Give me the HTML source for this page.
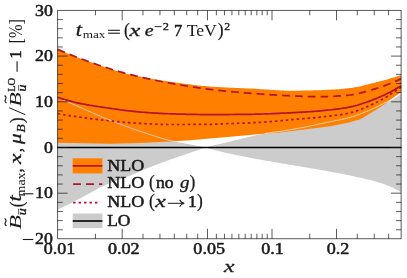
<!DOCTYPE html>
<html><head><meta charset="utf-8"><title>plot</title>
<style>html,body{margin:0;padding:0;background:#fff;}svg{display:block;will-change:transform;}</style></head>
<body>
<svg width="407" height="278" viewBox="0 0 407 278">
<rect width="407" height="278" fill="#fff"/>
<path d="M57.70 97.40 L60.20 98.53 L62.71 99.65 L65.21 100.77 L67.71 101.89 L70.22 103.00 L72.72 104.11 L75.22 105.22 L77.73 106.32 L80.23 107.42 L82.73 108.52 L85.24 109.63 L87.74 110.73 L90.24 111.84 L92.75 112.94 L95.25 114.04 L97.75 115.12 L100.26 116.19 L102.76 117.25 L105.26 118.29 L107.77 119.31 L110.27 120.30 L112.77 121.29 L115.28 122.26 L117.78 123.22 L120.28 124.17 L122.79 125.11 L125.29 126.04 L127.79 126.95 L130.30 127.85 L132.80 128.74 L135.31 129.61 L137.81 130.47 L140.31 131.31 L142.82 132.17 L145.32 133.02 L147.82 133.87 L150.33 134.70 L152.83 135.53 L155.33 136.34 L157.84 137.12 L160.34 137.89 L162.84 138.62 L165.35 139.31 L167.85 139.97 L170.35 140.58 L172.86 141.15 L175.36 141.68 L177.86 142.17 L180.37 142.65 L182.87 143.12 L185.37 143.59 L187.88 144.08 L190.38 144.57 L192.88 145.06 L195.39 145.55 L197.89 146.04 L200.39 146.53 L202.90 147.02 L205.40 147.50 L205.40 147.50 L207.88 146.90 L210.35 146.30 L212.83 145.70 L215.30 145.10 L217.78 144.51 L220.26 143.91 L222.73 143.32 L225.21 142.73 L227.68 142.15 L230.16 141.56 L232.64 140.97 L235.11 140.37 L237.59 139.76 L240.06 139.15 L242.54 138.53 L245.02 137.92 L247.49 137.32 L249.97 136.73 L252.44 136.15 L254.92 135.59 L257.39 135.05 L259.87 134.54 L262.35 134.05 L264.82 133.60 L267.30 133.18 L269.77 132.79 L272.25 132.42 L274.73 132.06 L277.20 131.72 L279.68 131.37 L282.15 131.02 L284.63 130.66 L287.11 130.28 L289.58 129.87 L292.06 129.44 L294.53 129.00 L297.01 128.54 L299.49 128.08 L301.96 127.60 L304.44 127.11 L306.91 126.62 L309.39 126.11 L311.87 125.61 L314.34 125.09 L316.82 124.57 L319.29 124.05 L321.77 123.53 L324.25 123.01 L326.72 122.49 L329.20 121.97 L331.67 121.45 L334.15 120.96 L336.63 120.46 L339.10 119.96 L341.58 119.45 L344.05 118.90 L346.53 118.31 L349.01 117.67 L351.48 116.97 L353.96 116.19 L356.43 115.36 L358.91 114.47 L361.38 113.54 L363.86 112.58 L366.34 111.59 L368.81 110.58 L371.29 109.50 L373.76 108.35 L376.24 107.15 L378.72 105.93 L381.19 104.71 L383.67 103.49 L386.14 102.32 L388.62 101.18 L391.10 99.99 L393.57 98.64 L396.05 97.13 L398.52 95.48 L401.00 93.70 L401.00 192.30 L398.52 190.81 L396.05 189.40 L393.57 188.10 L391.10 186.96 L388.62 185.92 L386.14 184.96 L383.67 184.07 L381.19 183.24 L378.72 182.46 L376.24 181.73 L373.76 181.03 L371.29 180.37 L368.81 179.74 L366.34 179.13 L363.86 178.54 L361.38 177.97 L358.91 177.42 L356.43 176.88 L353.96 176.35 L351.48 175.83 L349.01 175.32 L346.53 174.80 L344.05 174.30 L341.58 173.80 L339.10 173.32 L336.63 172.85 L334.15 172.39 L331.67 171.93 L329.20 171.48 L326.72 171.03 L324.25 170.59 L321.77 170.15 L319.29 169.71 L316.82 169.27 L314.34 168.83 L311.87 168.40 L309.39 167.97 L306.91 167.55 L304.44 167.13 L301.96 166.71 L299.49 166.30 L297.01 165.89 L294.53 165.47 L292.06 165.06 L289.58 164.64 L287.11 164.22 L284.63 163.80 L282.15 163.38 L279.68 162.97 L277.20 162.56 L274.73 162.15 L272.25 161.74 L269.77 161.32 L267.30 160.90 L264.82 160.48 L262.35 160.05 L259.87 159.61 L257.39 159.16 L254.92 158.71 L252.44 158.25 L249.97 157.79 L247.49 157.32 L245.02 156.85 L242.54 156.36 L240.06 155.87 L237.59 155.37 L235.11 154.86 L232.64 154.34 L230.16 153.81 L227.68 153.25 L225.21 152.69 L222.73 152.10 L220.26 151.49 L217.78 150.86 L215.30 150.22 L212.83 149.56 L210.35 148.89 L207.88 148.20 L205.40 147.50 L205.40 147.50 L202.90 148.36 L200.39 149.23 L197.89 150.09 L195.39 150.95 L192.88 151.82 L190.38 152.68 L187.88 153.54 L185.37 154.40 L182.87 155.25 L180.37 156.10 L177.86 156.96 L175.36 157.82 L172.86 158.69 L170.35 159.57 L167.85 160.47 L165.35 161.38 L162.84 162.30 L160.34 163.23 L157.84 164.17 L155.33 165.12 L152.83 166.09 L150.33 167.07 L147.82 168.08 L145.32 169.12 L142.82 170.19 L140.31 171.27 L137.81 172.34 L135.31 173.40 L132.80 174.44 L130.30 175.43 L127.79 176.40 L125.29 177.33 L122.79 178.25 L120.28 179.16 L117.78 180.08 L115.28 181.00 L112.77 181.96 L110.27 182.94 L107.77 183.97 L105.26 185.06 L102.76 186.21 L100.26 187.47 L97.75 188.79 L95.25 190.16 L92.75 191.54 L90.24 192.91 L87.74 194.25 L85.24 195.57 L82.73 196.90 L80.23 198.22 L77.73 199.54 L75.22 200.84 L72.72 202.13 L70.22 203.41 L67.71 204.67 L65.21 205.92 L62.71 207.16 L60.20 208.38 L57.70 209.60 Z" fill="#cccccc"/>
<path d="M57.70 49.40 L60.00 50.38 L62.31 51.35 L64.61 52.31 L66.92 53.25 L69.22 54.19 L71.52 55.11 L73.83 56.02 L76.13 56.92 L78.44 57.81 L80.74 58.68 L83.04 59.54 L85.35 60.39 L87.65 61.23 L89.96 62.05 L92.26 62.86 L94.56 63.65 L96.87 64.44 L99.17 65.22 L101.48 66.01 L103.78 66.79 L106.08 67.56 L108.39 68.33 L110.69 69.08 L113.00 69.81 L115.30 70.53 L117.60 71.22 L119.91 71.90 L122.21 72.54 L124.52 73.16 L126.82 73.75 L129.12 74.30 L131.43 74.82 L133.73 75.32 L136.04 75.81 L138.34 76.29 L140.64 76.75 L142.95 77.20 L145.25 77.63 L147.56 78.06 L149.86 78.47 L152.17 78.88 L154.47 79.27 L156.77 79.65 L159.08 80.03 L161.38 80.39 L163.69 80.75 L165.99 81.10 L168.29 81.44 L170.60 81.78 L172.90 82.11 L175.21 82.43 L177.51 82.75 L179.81 83.07 L182.12 83.39 L184.42 83.70 L186.73 84.01 L189.03 84.31 L191.33 84.60 L193.64 84.88 L195.94 85.15 L198.25 85.41 L200.55 85.66 L202.85 85.89 L205.16 86.11 L207.46 86.30 L209.77 86.48 L212.07 86.65 L214.37 86.80 L216.68 86.94 L218.98 87.08 L221.29 87.21 L223.59 87.33 L225.89 87.45 L228.20 87.56 L230.50 87.67 L232.81 87.77 L235.11 87.88 L237.41 87.98 L239.72 88.08 L242.02 88.18 L244.33 88.29 L246.63 88.39 L248.93 88.50 L251.24 88.61 L253.54 88.72 L255.85 88.85 L258.15 88.98 L260.45 89.13 L262.76 89.29 L265.06 89.45 L267.37 89.62 L269.67 89.78 L271.97 89.94 L274.28 90.10 L276.58 90.24 L278.89 90.37 L281.19 90.49 L283.49 90.58 L285.80 90.65 L288.10 90.69 L290.41 90.70 L292.71 90.69 L295.01 90.68 L297.32 90.66 L299.62 90.63 L301.93 90.59 L304.23 90.55 L306.53 90.50 L308.84 90.45 L311.14 90.40 L313.45 90.34 L315.75 90.28 L318.06 90.22 L320.36 90.15 L322.66 90.07 L324.97 89.98 L327.27 89.87 L329.58 89.76 L331.88 89.62 L334.18 89.48 L336.49 89.32 L338.79 89.15 L341.10 88.97 L343.40 88.78 L345.70 88.57 L348.01 88.35 L350.31 88.08 L352.62 87.74 L354.92 87.34 L357.22 86.90 L359.53 86.41 L361.83 85.89 L364.14 85.34 L366.44 84.77 L368.74 84.18 L371.05 83.60 L373.35 83.01 L375.66 82.43 L377.96 81.86 L380.26 81.27 L382.57 80.66 L384.87 80.04 L387.18 79.39 L389.48 78.73 L391.78 78.05 L394.09 77.36 L396.39 76.65 L398.70 75.93 L401.00 75.20 L401.00 92.20 L392.40 98.30 L384.90 104.00 L377.30 109.10 L367.80 114.80 L360.30 119.20 L348.90 122.40 L330.00 126.20 L300.00 130.10 L280.00 132.60 L263.70 133.80 L230.00 136.70 L210.00 138.50 L190.50 140.20 L170.00 141.60 L140.00 142.90 L110.00 143.70 L85.00 143.30 L57.70 142.70 Z" fill="#ff7f00"/>
<path d="M57.70 97.40 L60.20 98.53 L62.71 99.65 L65.21 100.77 L67.71 101.89 L70.22 103.00 L72.72 104.11 L75.22 105.22 L77.73 106.32 L80.23 107.42 L82.73 108.52 L85.24 109.63 L87.74 110.73 L90.24 111.84 L92.75 112.94 L95.25 114.04 L97.75 115.12 L100.26 116.19 L102.76 117.25 L105.26 118.29 L107.77 119.31 L110.27 120.30 L112.77 121.29 L115.28 122.26 L117.78 123.22 L120.28 124.17 L122.79 125.11 L125.29 126.04 L127.79 126.95 L130.30 127.85 L132.80 128.74 L135.31 129.61 L137.81 130.47 L140.31 131.31 L142.82 132.17 L145.32 133.02 L147.82 133.87 L150.33 134.70 L152.83 135.53 L155.33 136.34 L157.84 137.12 L160.34 137.89 L162.84 138.62 L165.35 139.31 L167.85 139.97 L170.35 140.58 L172.86 141.15 L175.36 141.68" fill="none" stroke="#d4d4d4" stroke-width="0.9"/>
<path d="M264.82 133.60 L267.30 133.18 L269.77 132.79 L272.25 132.42 L274.73 132.06 L277.20 131.72 L279.68 131.37 L282.15 131.02 L284.63 130.66 L287.11 130.28 L289.58 129.87 L292.06 129.44 L294.53 129.00 L297.01 128.54 L299.49 128.08 L301.96 127.60 L304.44 127.11 L306.91 126.62 L309.39 126.11 L311.87 125.61 L314.34 125.09 L316.82 124.57 L319.29 124.05 L321.77 123.53 L324.25 123.01 L326.72 122.49 L329.20 121.97 L331.67 121.45 L334.15 120.96 L336.63 120.46 L339.10 119.96 L341.58 119.45 L344.05 118.90 L346.53 118.31 L349.01 117.67 L351.48 116.97 L353.96 116.19 L356.43 115.36 L358.91 114.47 L361.38 113.54 L363.86 112.58 L366.34 111.59 L368.81 110.58 L371.29 109.50 L373.76 108.35 L376.24 107.15 L378.72 105.93 L381.19 104.71 L383.67 103.49 L386.14 102.32 L388.62 101.18 L391.10 99.99 L393.57 98.64 L396.05 97.13 L398.52 95.48 L401.00 93.70" fill="none" stroke="#f4f4f4" stroke-width="0.7"/>
<path d="M57.70 97.40 L60.00 98.12 L62.31 98.82 L64.61 99.51 L66.92 100.17 L69.22 100.81 L71.52 101.42 L73.83 102.01 L76.13 102.56 L78.44 103.07 L80.74 103.56 L83.04 104.01 L85.35 104.45 L87.65 104.87 L89.96 105.28 L92.26 105.67 L94.56 106.04 L96.87 106.41 L99.17 106.76 L101.48 107.11 L103.78 107.45 L106.08 107.78 L108.39 108.11 L110.69 108.44 L113.00 108.77 L115.30 109.10 L117.60 109.43 L119.91 109.76 L122.21 110.07 L124.52 110.38 L126.82 110.67 L129.12 110.95 L131.43 111.21 L133.73 111.46 L136.04 111.68 L138.34 111.89 L140.64 112.07 L142.95 112.25 L145.25 112.43 L147.56 112.60 L149.86 112.76 L152.17 112.92 L154.47 113.06 L156.77 113.20 L159.08 113.33 L161.38 113.45 L163.69 113.56 L165.99 113.66 L168.29 113.74 L170.60 113.82 L172.90 113.89 L175.21 113.96 L177.51 114.03 L179.81 114.09 L182.12 114.16 L184.42 114.22 L186.73 114.28 L189.03 114.33 L191.33 114.38 L193.64 114.43 L195.94 114.47 L198.25 114.51 L200.55 114.54 L202.85 114.56 L205.16 114.58 L207.46 114.60 L209.77 114.60 L212.07 114.60 L214.37 114.60 L216.68 114.59 L218.98 114.58 L221.29 114.57 L223.59 114.56 L225.89 114.54 L228.20 114.53 L230.50 114.51 L232.81 114.49 L235.11 114.47 L237.41 114.44 L239.72 114.42 L242.02 114.39 L244.33 114.37 L246.63 114.34 L248.93 114.31 L251.24 114.28 L253.54 114.24 L255.85 114.19 L258.15 114.14 L260.45 114.07 L262.76 114.00 L265.06 113.92 L267.37 113.83 L269.67 113.74 L271.97 113.64 L274.28 113.54 L276.58 113.44 L278.89 113.33 L281.19 113.22 L283.49 113.11 L285.80 113.00 L288.10 112.89 L290.41 112.78 L292.71 112.67 L295.01 112.55 L297.32 112.43 L299.62 112.30 L301.93 112.17 L304.23 112.03 L306.53 111.89 L308.84 111.74 L311.14 111.58 L313.45 111.41 L315.75 111.24 L318.06 111.05 L320.36 110.86 L322.66 110.66 L324.97 110.44 L327.27 110.22 L329.58 109.98 L331.88 109.72 L334.18 109.45 L336.49 109.16 L338.79 108.86 L341.10 108.53 L343.40 108.18 L345.70 107.81 L348.01 107.41 L350.31 106.95 L352.62 106.43 L354.92 105.85 L357.22 105.21 L359.53 104.51 L361.83 103.78 L364.14 103.00 L366.44 102.19 L368.74 101.35 L371.05 100.49 L373.35 99.61 L375.66 98.71 L377.96 97.80 L380.26 96.82 L382.57 95.79 L384.87 94.70 L387.18 93.57 L389.48 92.39 L391.78 91.16 L394.09 89.90 L396.39 88.60 L398.70 87.26 L401.00 85.90" fill="none" stroke="#b5122c" stroke-width="1.7"/>
<path d="M57.70 49.40 L60.00 50.38 L62.31 51.35 L64.61 52.31 L66.92 53.25 L69.22 54.19 L71.52 55.11 L73.83 56.02 L76.13 56.92 L78.44 57.81 L80.74 58.68 L83.04 59.54 L85.35 60.39 L87.65 61.23 L89.96 62.05 L92.26 62.86 L94.56 63.65 L96.87 64.44 L99.17 65.21 L101.48 65.98 L103.78 66.75 L106.08 67.50 L108.39 68.24 L110.69 68.97 L113.00 69.69 L115.30 70.40 L117.60 71.09 L119.91 71.76 L122.21 72.42 L124.52 73.06 L126.82 73.68 L129.12 74.28 L131.43 74.86 L133.73 75.43 L136.04 75.98 L138.34 76.53 L140.64 77.07 L142.95 77.60 L145.25 78.11 L147.56 78.62 L149.86 79.12 L152.17 79.61 L154.47 80.09 L156.77 80.56 L159.08 81.03 L161.38 81.48 L163.69 81.93 L165.99 82.37 L168.29 82.79 L170.60 83.22 L172.90 83.63 L175.21 84.04 L177.51 84.44 L179.81 84.83 L182.12 85.23 L184.42 85.61 L186.73 86.00 L189.03 86.37 L191.33 86.74 L193.64 87.10 L195.94 87.46 L198.25 87.80 L200.55 88.14 L202.85 88.46 L205.16 88.78 L207.46 89.08 L209.77 89.38 L212.07 89.66 L214.37 89.93 L216.68 90.19 L218.98 90.44 L221.29 90.68 L223.59 90.92 L225.89 91.15 L228.20 91.37 L230.50 91.59 L232.81 91.80 L235.11 92.00 L237.41 92.20 L239.72 92.40 L242.02 92.59 L244.33 92.78 L246.63 92.96 L248.93 93.14 L251.24 93.32 L253.54 93.49 L255.85 93.66 L258.15 93.83 L260.45 94.00 L262.76 94.17 L265.06 94.33 L267.37 94.49 L269.67 94.65 L271.97 94.81 L274.28 94.96 L276.58 95.10 L278.89 95.24 L281.19 95.37 L283.49 95.49 L285.80 95.61 L288.10 95.72 L290.41 95.82 L292.71 95.91 L295.01 96.01 L297.32 96.11 L299.62 96.21 L301.93 96.31 L304.23 96.39 L306.53 96.47 L308.84 96.55 L311.14 96.61 L313.45 96.65 L315.75 96.68 L318.06 96.70 L320.36 96.69 L322.66 96.67 L324.97 96.62 L327.27 96.55 L329.58 96.46 L331.88 96.35 L334.18 96.23 L336.49 96.10 L338.79 95.95 L341.10 95.79 L343.40 95.62 L345.70 95.44 L348.01 95.26 L350.31 95.01 L352.62 94.67 L354.92 94.26 L357.22 93.79 L359.53 93.26 L361.83 92.68 L364.14 92.06 L366.44 91.41 L368.74 90.74 L371.05 90.05 L373.35 89.35 L375.66 88.66 L377.96 87.96 L380.26 87.22 L382.57 86.43 L384.87 85.59 L387.18 84.72 L389.48 83.81 L391.78 82.87 L394.09 81.89 L396.39 80.89 L398.70 79.85 L401.00 78.80" fill="none" stroke="#b5122c" stroke-width="1.7" stroke-dasharray="7.8 5"/>
<path d="M57.70 113.60 L60.00 114.00 L62.31 114.40 L64.61 114.79 L66.92 115.17 L69.22 115.54 L71.52 115.91 L73.83 116.26 L76.13 116.61 L78.44 116.95 L80.74 117.28 L83.04 117.60 L85.35 117.92 L87.65 118.23 L89.96 118.54 L92.26 118.84 L94.56 119.14 L96.87 119.43 L99.17 119.71 L101.48 119.98 L103.78 120.24 L106.08 120.50 L108.39 120.74 L110.69 120.97 L113.00 121.20 L115.30 121.43 L117.60 121.66 L119.91 121.88 L122.21 122.09 L124.52 122.30 L126.82 122.49 L129.12 122.68 L131.43 122.85 L133.73 123.01 L136.04 123.16 L138.34 123.29 L140.64 123.41 L142.95 123.54 L145.25 123.66 L147.56 123.78 L149.86 123.90 L152.17 124.01 L154.47 124.12 L156.77 124.21 L159.08 124.30 L161.38 124.37 L163.69 124.43 L165.99 124.47 L168.29 124.49 L170.60 124.50 L172.90 124.50 L175.21 124.50 L177.51 124.50 L179.81 124.49 L182.12 124.49 L184.42 124.48 L186.73 124.48 L189.03 124.47 L191.33 124.46 L193.64 124.45 L195.94 124.44 L198.25 124.43 L200.55 124.42 L202.85 124.41 L205.16 124.40 L207.46 124.38 L209.77 124.33 L212.07 124.28 L214.37 124.21 L216.68 124.13 L218.98 124.04 L221.29 123.95 L223.59 123.85 L225.89 123.76 L228.20 123.67 L230.50 123.58 L232.81 123.50 L235.11 123.41 L237.41 123.33 L239.72 123.24 L242.02 123.16 L244.33 123.06 L246.63 122.97 L248.93 122.87 L251.24 122.77 L253.54 122.66 L255.85 122.55 L258.15 122.43 L260.45 122.31 L262.76 122.17 L265.06 122.02 L267.37 121.86 L269.67 121.68 L271.97 121.49 L274.28 121.29 L276.58 121.09 L278.89 120.88 L281.19 120.66 L283.49 120.44 L285.80 120.22 L288.10 120.00 L290.41 119.78 L292.71 119.56 L295.01 119.35 L297.32 119.14 L299.62 118.93 L301.93 118.74 L304.23 118.55 L306.53 118.37 L308.84 118.18 L311.14 117.99 L313.45 117.80 L315.75 117.59 L318.06 117.37 L320.36 117.13 L322.66 116.89 L324.97 116.64 L327.27 116.39 L329.58 116.13 L331.88 115.85 L334.18 115.56 L336.49 115.25 L338.79 114.91 L341.10 114.55 L343.40 114.17 L345.70 113.75 L348.01 113.30 L350.31 112.77 L352.62 112.15 L354.92 111.45 L357.22 110.68 L359.53 109.84 L361.83 108.95 L364.14 108.00 L366.44 107.01 L368.74 105.98 L371.05 104.92 L373.35 103.85 L375.66 102.76 L377.96 101.64 L380.26 100.45 L382.57 99.18 L384.87 97.85 L387.18 96.46 L389.48 95.00 L391.78 93.50 L394.09 91.94 L396.39 90.33 L398.70 88.68 L401.00 87.00" fill="none" stroke="#b5122c" stroke-width="1.7" stroke-dasharray="2.5 2.95"/>
<line x1="57.1" x2="401.40000000000003" y1="147.5" y2="147.5" stroke="#000" stroke-width="1.5"/>
<rect x="57.7" y="10.3" width="343.40000000000003" height="228.5" fill="none" stroke="#151515" stroke-width="0.7"/>
<path d="M122.21 238.8 v-10 M122.21 10.3 v10 M207.49 238.8 v-10 M207.49 10.3 v10 M272.00 238.8 v-10 M272.00 10.3 v10 M336.51 238.8 v-10 M336.51 10.3 v10 M95.44 238.8 v-5 M95.44 10.3 v5 M142.98 238.8 v-5 M142.98 10.3 v5 M159.95 238.8 v-5 M159.95 10.3 v5 M174.29 238.8 v-5 M174.29 10.3 v5 M186.72 238.8 v-5 M186.72 10.3 v5 M197.68 238.8 v-5 M197.68 10.3 v5 M216.36 238.8 v-5 M216.36 10.3 v5 M224.46 238.8 v-5 M224.46 10.3 v5 M231.91 238.8 v-5 M231.91 10.3 v5 M238.80 238.8 v-5 M238.80 10.3 v5 M245.23 238.8 v-5 M245.23 10.3 v5 M251.23 238.8 v-5 M251.23 10.3 v5 M256.87 238.8 v-5 M256.87 10.3 v5 M262.19 238.8 v-5 M262.19 10.3 v5 M267.23 238.8 v-5 M267.23 10.3 v5 M309.74 238.8 v-5 M309.74 10.3 v5 M357.28 238.8 v-5 M357.28 10.3 v5 M374.25 238.8 v-5 M374.25 10.3 v5 M388.59 238.8 v-5 M388.59 10.3 v5 M57.7 229.76 h5 M401.1 229.76 h-5 M57.7 220.62 h5 M401.1 220.62 h-5 M57.7 211.48 h5 M401.1 211.48 h-5 M57.7 202.34 h5 M401.1 202.34 h-5 M57.7 193.20 h10 M401.1 193.20 h-10 M57.7 184.06 h5 M401.1 184.06 h-5 M57.7 174.92 h5 M401.1 174.92 h-5 M57.7 165.78 h5 M401.1 165.78 h-5 M57.7 156.64 h5 M401.1 156.64 h-5 M57.7 147.50 h10 M401.1 147.50 h-10 M57.7 138.36 h5 M401.1 138.36 h-5 M57.7 129.22 h5 M401.1 129.22 h-5 M57.7 120.08 h5 M401.1 120.08 h-5 M57.7 110.94 h5 M401.1 110.94 h-5 M57.7 101.80 h10 M401.1 101.80 h-10 M57.7 92.66 h5 M401.1 92.66 h-5 M57.7 83.52 h5 M401.1 83.52 h-5 M57.7 74.38 h5 M401.1 74.38 h-5 M57.7 65.24 h5 M401.1 65.24 h-5 M57.7 56.10 h10 M401.1 56.10 h-10 M57.7 46.96 h5 M401.1 46.96 h-5 M57.7 37.82 h5 M401.1 37.82 h-5 M57.7 28.68 h5 M401.1 28.68 h-5 M57.7 19.54 h5 M401.1 19.54 h-5" fill="none" stroke="#151515" stroke-width="0.7"/>
<rect x="72.7" y="158.3" width="29.7" height="15.1" fill="#ff7f00"/>
<line x1="72.7" x2="102.4" y1="165.9" y2="165.9" stroke="#b5122c" stroke-width="1.7"/>
<path d="M73.1 184.1 H80.9 M86 184.1 H93.9 M99 184.1 H102.4" stroke="#b5122c" stroke-width="1.7" fill="none"/>
<path d="M73.10 202.55 h2.5 M78.55 202.55 h2.5 M84.00 202.55 h2.5 M89.45 202.55 h2.5 M94.90 202.55 h2.5" stroke="#b5122c" stroke-width="1.7" fill="none"/>
<rect x="72.7" y="213.5" width="29.7" height="14.6" fill="#cccccc"/>
<line x1="72.7" x2="102.4" y1="221.0" y2="221.0" stroke="#000" stroke-width="1.6"/>
<text x="107.2" y="170.6" font-family="Liberation Serif, serif" font-size="16" font-weight="normal" font-style="normal" text-anchor="start" fill="#1a1a1a" stroke="#1a1a1a" stroke-width="0.50" stroke-linejoin="round" textLength="37" lengthAdjust="spacingAndGlyphs">NLO</text>
<text x="107.2" y="188.3" font-family="Liberation Serif, serif" font-size="16" font-weight="normal" font-style="normal" text-anchor="start" fill="#1a1a1a" stroke="#1a1a1a" stroke-width="0.50" stroke-linejoin="round" textLength="37" lengthAdjust="spacingAndGlyphs">NLO</text>
<text x="149.0" y="188.0" font-family="Liberation Serif, serif" font-size="19.5" font-weight="normal" font-style="normal" text-anchor="start" fill="#1a1a1a" stroke="#1a1a1a" stroke-width="0.25" stroke-linejoin="round" textLength="5.8" lengthAdjust="spacingAndGlyphs">(</text>
<text x="156.0" y="188.3" font-family="Liberation Serif, serif" font-size="16" font-weight="normal" font-style="normal" text-anchor="start" fill="#1a1a1a" stroke="#1a1a1a" stroke-width="0.50" stroke-linejoin="round" textLength="17.6" lengthAdjust="spacingAndGlyphs">no</text>
<text x="180.0" y="188.3" font-family="Liberation Serif, serif" font-size="16" font-weight="normal" font-style="italic" text-anchor="start" fill="#1a1a1a" stroke="#1a1a1a" stroke-width="0.30" stroke-linejoin="round" textLength="9.5" lengthAdjust="spacingAndGlyphs">g</text>
<text x="189.4" y="188.0" font-family="Liberation Serif, serif" font-size="19.5" font-weight="normal" font-style="normal" text-anchor="start" fill="#1a1a1a" stroke="#1a1a1a" stroke-width="0.25" stroke-linejoin="round" textLength="5.8" lengthAdjust="spacingAndGlyphs">)</text>
<text x="107.2" y="206.8" font-family="Liberation Serif, serif" font-size="16" font-weight="normal" font-style="normal" text-anchor="start" fill="#1a1a1a" stroke="#1a1a1a" stroke-width="0.50" stroke-linejoin="round" textLength="37" lengthAdjust="spacingAndGlyphs">NLO</text>
<text x="149.0" y="206.5" font-family="Liberation Serif, serif" font-size="19.5" font-weight="normal" font-style="normal" text-anchor="start" fill="#1a1a1a" stroke="#1a1a1a" stroke-width="0.25" stroke-linejoin="round" textLength="5.8" lengthAdjust="spacingAndGlyphs">(</text>
<text x="155.3" y="206.8" font-family="Liberation Serif, serif" font-size="16" font-weight="normal" font-style="italic" text-anchor="start" fill="#1a1a1a" stroke="#1a1a1a" stroke-width="0.30" stroke-linejoin="round" textLength="10.5" lengthAdjust="spacingAndGlyphs">x</text>
<path d="M167.9 203.3 H183.6" stroke="#1a1a1a" stroke-width="1.0" fill="none"/>
<path d="M179.6 199.9 Q181.2 202.6 184.2 203.3 Q181.2 204 179.6 206.7" stroke="#1a1a1a" stroke-width="1.1" fill="none"/>
<text x="188.0" y="206.8" font-family="Liberation Serif, serif" font-size="16" font-weight="normal" font-style="normal" text-anchor="start" fill="#1a1a1a" stroke="#1a1a1a" stroke-width="0.50" stroke-linejoin="round" textLength="8.6" lengthAdjust="spacingAndGlyphs">1</text>
<text x="197.0" y="206.5" font-family="Liberation Serif, serif" font-size="19.5" font-weight="normal" font-style="normal" text-anchor="start" fill="#1a1a1a" stroke="#1a1a1a" stroke-width="0.25" stroke-linejoin="round" textLength="5.8" lengthAdjust="spacingAndGlyphs">)</text>
<text x="107.2" y="225.7" font-family="Liberation Serif, serif" font-size="16" font-weight="normal" font-style="normal" text-anchor="start" fill="#1a1a1a" stroke="#1a1a1a" stroke-width="0.50" stroke-linejoin="round" textLength="23.2" lengthAdjust="spacingAndGlyphs">LO</text>
<text x="52.9" y="15.599999999999978" font-family="Liberation Serif, serif" font-size="16.2" font-weight="normal" font-style="normal" text-anchor="end" fill="#1a1a1a" stroke="#1a1a1a" stroke-width="0.51" stroke-linejoin="round" textLength="17.8" lengthAdjust="spacingAndGlyphs">30</text>
<text x="52.9" y="61.29999999999999" font-family="Liberation Serif, serif" font-size="16.2" font-weight="normal" font-style="normal" text-anchor="end" fill="#1a1a1a" stroke="#1a1a1a" stroke-width="0.51" stroke-linejoin="round" textLength="17.8" lengthAdjust="spacingAndGlyphs">20</text>
<text x="52.9" y="107.0" font-family="Liberation Serif, serif" font-size="16.2" font-weight="normal" font-style="normal" text-anchor="end" fill="#1a1a1a" stroke="#1a1a1a" stroke-width="0.51" stroke-linejoin="round" textLength="17.8" lengthAdjust="spacingAndGlyphs">10</text>
<text x="52.9" y="152.70000000000002" font-family="Liberation Serif, serif" font-size="16.2" font-weight="normal" font-style="normal" text-anchor="end" fill="#1a1a1a" stroke="#1a1a1a" stroke-width="0.51" stroke-linejoin="round" textLength="8.9" lengthAdjust="spacingAndGlyphs">0</text>
<text x="52.9" y="198.4" font-family="Liberation Serif, serif" font-size="16.2" font-weight="normal" font-style="normal" text-anchor="end" fill="#1a1a1a" stroke="#1a1a1a" stroke-width="0.51" stroke-linejoin="round" textLength="17.8" lengthAdjust="spacingAndGlyphs">10</text>
<line x1="22.9" x2="33.4" y1="193.79999999999998" y2="193.79999999999998" stroke="#1a1a1a" stroke-width="1.1"/>
<text x="52.9" y="244.10000000000002" font-family="Liberation Serif, serif" font-size="16.2" font-weight="normal" font-style="normal" text-anchor="end" fill="#1a1a1a" stroke="#1a1a1a" stroke-width="0.51" stroke-linejoin="round" textLength="17.8" lengthAdjust="spacingAndGlyphs">20</text>
<line x1="22.8" x2="33.3" y1="239.5" y2="239.5" stroke="#1a1a1a" stroke-width="1.1"/>
<text x="59.5" y="254.2" font-family="Liberation Serif, serif" font-size="16.2" font-weight="normal" font-style="normal" text-anchor="middle" fill="#1a1a1a" stroke="#1a1a1a" stroke-width="0.51" stroke-linejoin="round" textLength="31.6" lengthAdjust="spacingAndGlyphs">0.01</text>
<text x="123.71072807079119" y="254.2" font-family="Liberation Serif, serif" font-size="16.2" font-weight="normal" font-style="normal" text-anchor="middle" fill="#1a1a1a" stroke="#1a1a1a" stroke-width="0.51" stroke-linejoin="round" textLength="31.6" lengthAdjust="spacingAndGlyphs">0.02</text>
<text x="209.18927192920881" y="254.2" font-family="Liberation Serif, serif" font-size="16.2" font-weight="normal" font-style="normal" text-anchor="middle" fill="#1a1a1a" stroke="#1a1a1a" stroke-width="0.51" stroke-linejoin="round" textLength="31.6" lengthAdjust="spacingAndGlyphs">0.05</text>
<text x="272.6" y="254.2" font-family="Liberation Serif, serif" font-size="16.2" font-weight="normal" font-style="normal" text-anchor="middle" fill="#1a1a1a" stroke="#1a1a1a" stroke-width="0.51" stroke-linejoin="round" textLength="22.6" lengthAdjust="spacingAndGlyphs">0.1</text>
<text x="338.0107280707912" y="254.2" font-family="Liberation Serif, serif" font-size="16.2" font-weight="normal" font-style="normal" text-anchor="middle" fill="#1a1a1a" stroke="#1a1a1a" stroke-width="0.51" stroke-linejoin="round" textLength="22.6" lengthAdjust="spacingAndGlyphs">0.2</text>
<text x="229.2" y="272.4" font-family="Liberation Serif, serif" font-size="16" font-weight="normal" font-style="italic" text-anchor="middle" fill="#1a1a1a" stroke="#1a1a1a" stroke-width="0.30" stroke-linejoin="round" textLength="10.5" lengthAdjust="spacingAndGlyphs">x</text>
<text x="75.8" y="35.5" font-family="Liberation Serif, serif" font-size="19" font-weight="normal" font-style="italic" text-anchor="start" fill="#1a1a1a" stroke="#1a1a1a" stroke-width="0.30" stroke-linejoin="round" textLength="6.2" lengthAdjust="spacingAndGlyphs">t</text>
<text x="82.7" y="38.3" font-family="Liberation Serif, serif" font-size="11" font-weight="normal" font-style="normal" text-anchor="start" fill="#1a1a1a" textLength="22.8" lengthAdjust="spacingAndGlyphs">max</text>
<line x1="108.1" x2="119.9" y1="30.3" y2="30.3" stroke="#1a1a1a" stroke-width="1.1"/>
<line x1="108.1" x2="119.9" y1="33.2" y2="33.2" stroke="#1a1a1a" stroke-width="1.1"/>
<text x="124.0" y="35.5" font-family="Liberation Serif, serif" font-size="19.5" font-weight="normal" font-style="normal" text-anchor="start" fill="#1a1a1a" stroke="#1a1a1a" stroke-width="0.25" stroke-linejoin="round" textLength="5.8" lengthAdjust="spacingAndGlyphs">(</text>
<text x="129.6" y="35.5" font-family="Liberation Serif, serif" font-size="16" font-weight="normal" font-style="italic" text-anchor="start" fill="#1a1a1a" stroke="#1a1a1a" stroke-width="0.30" stroke-linejoin="round" textLength="10.8" lengthAdjust="spacingAndGlyphs">x</text>
<text x="144.8" y="35.5" font-family="Liberation Serif, serif" font-size="16" font-weight="normal" font-style="italic" text-anchor="start" fill="#1a1a1a" stroke="#1a1a1a" stroke-width="0.30" stroke-linejoin="round" textLength="8.8" lengthAdjust="spacingAndGlyphs">e</text>
<line x1="154.6" x2="161.6" y1="26.6" y2="26.6" stroke="#1a1a1a" stroke-width="0.9"/>
<text x="162.8" y="30.3" font-family="Liberation Serif, serif" font-size="10.5" font-weight="normal" font-style="normal" text-anchor="start" fill="#1a1a1a" stroke="#1a1a1a" stroke-width="0.33" stroke-linejoin="round" textLength="6.2" lengthAdjust="spacingAndGlyphs">2</text>
<text x="174.0" y="35.5" font-family="Liberation Serif, serif" font-size="16" font-weight="normal" font-style="normal" text-anchor="start" fill="#1a1a1a" stroke="#1a1a1a" stroke-width="0.50" stroke-linejoin="round" textLength="8.2" lengthAdjust="spacingAndGlyphs">7</text>
<text x="186.7" y="35.5" font-family="Liberation Serif, serif" font-size="16" font-weight="normal" font-style="normal" text-anchor="start" fill="#1a1a1a" textLength="30.2" lengthAdjust="spacingAndGlyphs">TeV</text>
<text x="217.8" y="35.5" font-family="Liberation Serif, serif" font-size="19.5" font-weight="normal" font-style="normal" text-anchor="start" fill="#1a1a1a" stroke="#1a1a1a" stroke-width="0.25" stroke-linejoin="round" textLength="5.8" lengthAdjust="spacingAndGlyphs">)</text>
<text x="224.3" y="30.2" font-family="Liberation Serif, serif" font-size="10.2" font-weight="normal" font-style="normal" text-anchor="start" fill="#1a1a1a" stroke="#1a1a1a" stroke-width="0.32" stroke-linejoin="round" textLength="5.9" lengthAdjust="spacingAndGlyphs">2</text>
<g transform="translate(21.0 229) rotate(-90)">
<text x="-0.5" y="0" font-family="Liberation Serif, serif" font-size="16.5" font-weight="normal" font-style="italic" text-anchor="start" fill="#1a1a1a" stroke="#1a1a1a" stroke-width="0.01" stroke-linejoin="round" textLength="14.5" lengthAdjust="spacingAndGlyphs">B</text>
<path d="M3.1 -14.5 q1.7 -2.4 3.7 -1.0 q2.0 1.5 3.9 -0.9" stroke="#1a1a1a" stroke-width="1.05" fill="none"/>
<text x="13.8" y="4.6" font-family="Liberation Serif, serif" font-size="12" font-weight="normal" font-style="italic" text-anchor="start" fill="#1a1a1a" stroke="#1a1a1a" stroke-width="0.30" stroke-linejoin="round" textLength="7" lengthAdjust="spacingAndGlyphs">u</text>
<line x1="14.5" x2="20.2" y1="-2.4" y2="-2.4" stroke="#1a1a1a" stroke-width="0.7"/>
<text x="21.8" y="1.9" font-family="Liberation Serif, serif" font-size="18.5" font-weight="normal" font-style="normal" text-anchor="start" fill="#1a1a1a" stroke="#1a1a1a" stroke-width="0.30" stroke-linejoin="round" textLength="5.6" lengthAdjust="spacingAndGlyphs">(</text>
<text x="27.4" y="0" font-family="Liberation Serif, serif" font-size="19" font-weight="normal" font-style="italic" text-anchor="start" fill="#1a1a1a" stroke="#1a1a1a" stroke-width="0.30" stroke-linejoin="round" textLength="6.2" lengthAdjust="spacingAndGlyphs">t</text>
<text x="32.6" y="4.0" font-family="Liberation Serif, serif" font-size="11.8" font-weight="normal" font-style="normal" text-anchor="start" fill="#1a1a1a" textLength="24" lengthAdjust="spacingAndGlyphs">max</text>
<text x="56.8" y="1.2" font-family="Liberation Serif, serif" font-size="17" font-weight="normal" font-style="normal" text-anchor="start" fill="#1a1a1a" stroke="#1a1a1a" stroke-width="0.53" stroke-linejoin="round" textLength="3.8" lengthAdjust="spacingAndGlyphs">,</text>
<text x="65" y="0" font-family="Liberation Serif, serif" font-size="16.5" font-weight="normal" font-style="italic" text-anchor="start" fill="#1a1a1a" stroke="#1a1a1a" stroke-width="0.30" stroke-linejoin="round" textLength="10.5" lengthAdjust="spacingAndGlyphs">x</text>
<text x="77.0" y="1.2" font-family="Liberation Serif, serif" font-size="17" font-weight="normal" font-style="normal" text-anchor="start" fill="#1a1a1a" stroke="#1a1a1a" stroke-width="0.53" stroke-linejoin="round" textLength="3.8" lengthAdjust="spacingAndGlyphs">,</text>
<text x="85" y="0" font-family="Liberation Serif, serif" font-size="16.5" font-weight="normal" font-style="italic" text-anchor="start" fill="#1a1a1a" stroke="#1a1a1a" stroke-width="0.30" stroke-linejoin="round" textLength="10.5" lengthAdjust="spacingAndGlyphs">μ</text>
<text x="96.6" y="3.8" font-family="Liberation Serif, serif" font-size="12" font-weight="normal" font-style="italic" text-anchor="start" fill="#1a1a1a" stroke="#1a1a1a" stroke-width="0.30" stroke-linejoin="round" textLength="8.2" lengthAdjust="spacingAndGlyphs">B</text>
<text x="106.0" y="1.9" font-family="Liberation Serif, serif" font-size="18.5" font-weight="normal" font-style="normal" text-anchor="start" fill="#1a1a1a" stroke="#1a1a1a" stroke-width="0.30" stroke-linejoin="round" textLength="5.6" lengthAdjust="spacingAndGlyphs">)</text>
<path d="M114.3 4.3 L121.2 -11.7" stroke="#1a1a1a" stroke-width="1.0" fill="none"/>
<text x="122.3" y="0" font-family="Liberation Serif, serif" font-size="16.5" font-weight="normal" font-style="italic" text-anchor="start" fill="#1a1a1a" stroke="#1a1a1a" stroke-width="0.01" stroke-linejoin="round" textLength="14.5" lengthAdjust="spacingAndGlyphs">B</text>
<path d="M125.9 -14.5 q1.7 -2.4 3.7 -1.0 q2.0 1.5 3.9 -0.9" stroke="#1a1a1a" stroke-width="1.05" fill="none"/>
<text x="137.2" y="-6.3" font-family="Liberation Serif, serif" font-size="10.5" font-weight="normal" font-style="normal" text-anchor="start" fill="#1a1a1a" stroke="#1a1a1a" stroke-width="0.33" stroke-linejoin="round" textLength="14" lengthAdjust="spacingAndGlyphs">LO</text>
<text x="137.5" y="4.6" font-family="Liberation Serif, serif" font-size="12" font-weight="normal" font-style="italic" text-anchor="start" fill="#1a1a1a" stroke="#1a1a1a" stroke-width="0.30" stroke-linejoin="round" textLength="7" lengthAdjust="spacingAndGlyphs">u</text>
<line x1="138.2" x2="143.9" y1="-2.4" y2="-2.4" stroke="#1a1a1a" stroke-width="0.7"/>
<line x1="157.2" x2="167.8" y1="-3.9" y2="-3.9" stroke="#1a1a1a" stroke-width="1.1"/>
<text x="170.2" y="-0.2" font-family="Liberation Serif, serif" font-size="16" font-weight="normal" font-style="normal" text-anchor="start" fill="#1a1a1a" stroke="#1a1a1a" stroke-width="0.50" stroke-linejoin="round" textLength="8.6" lengthAdjust="spacingAndGlyphs">1</text>
<text x="185.5" y="0.6" font-family="Liberation Serif, serif" font-size="18.5" font-weight="normal" font-style="normal" text-anchor="start" fill="#1a1a1a" textLength="24.5" lengthAdjust="spacingAndGlyphs">[%]</text>
</g>
</svg>
</body></html>
